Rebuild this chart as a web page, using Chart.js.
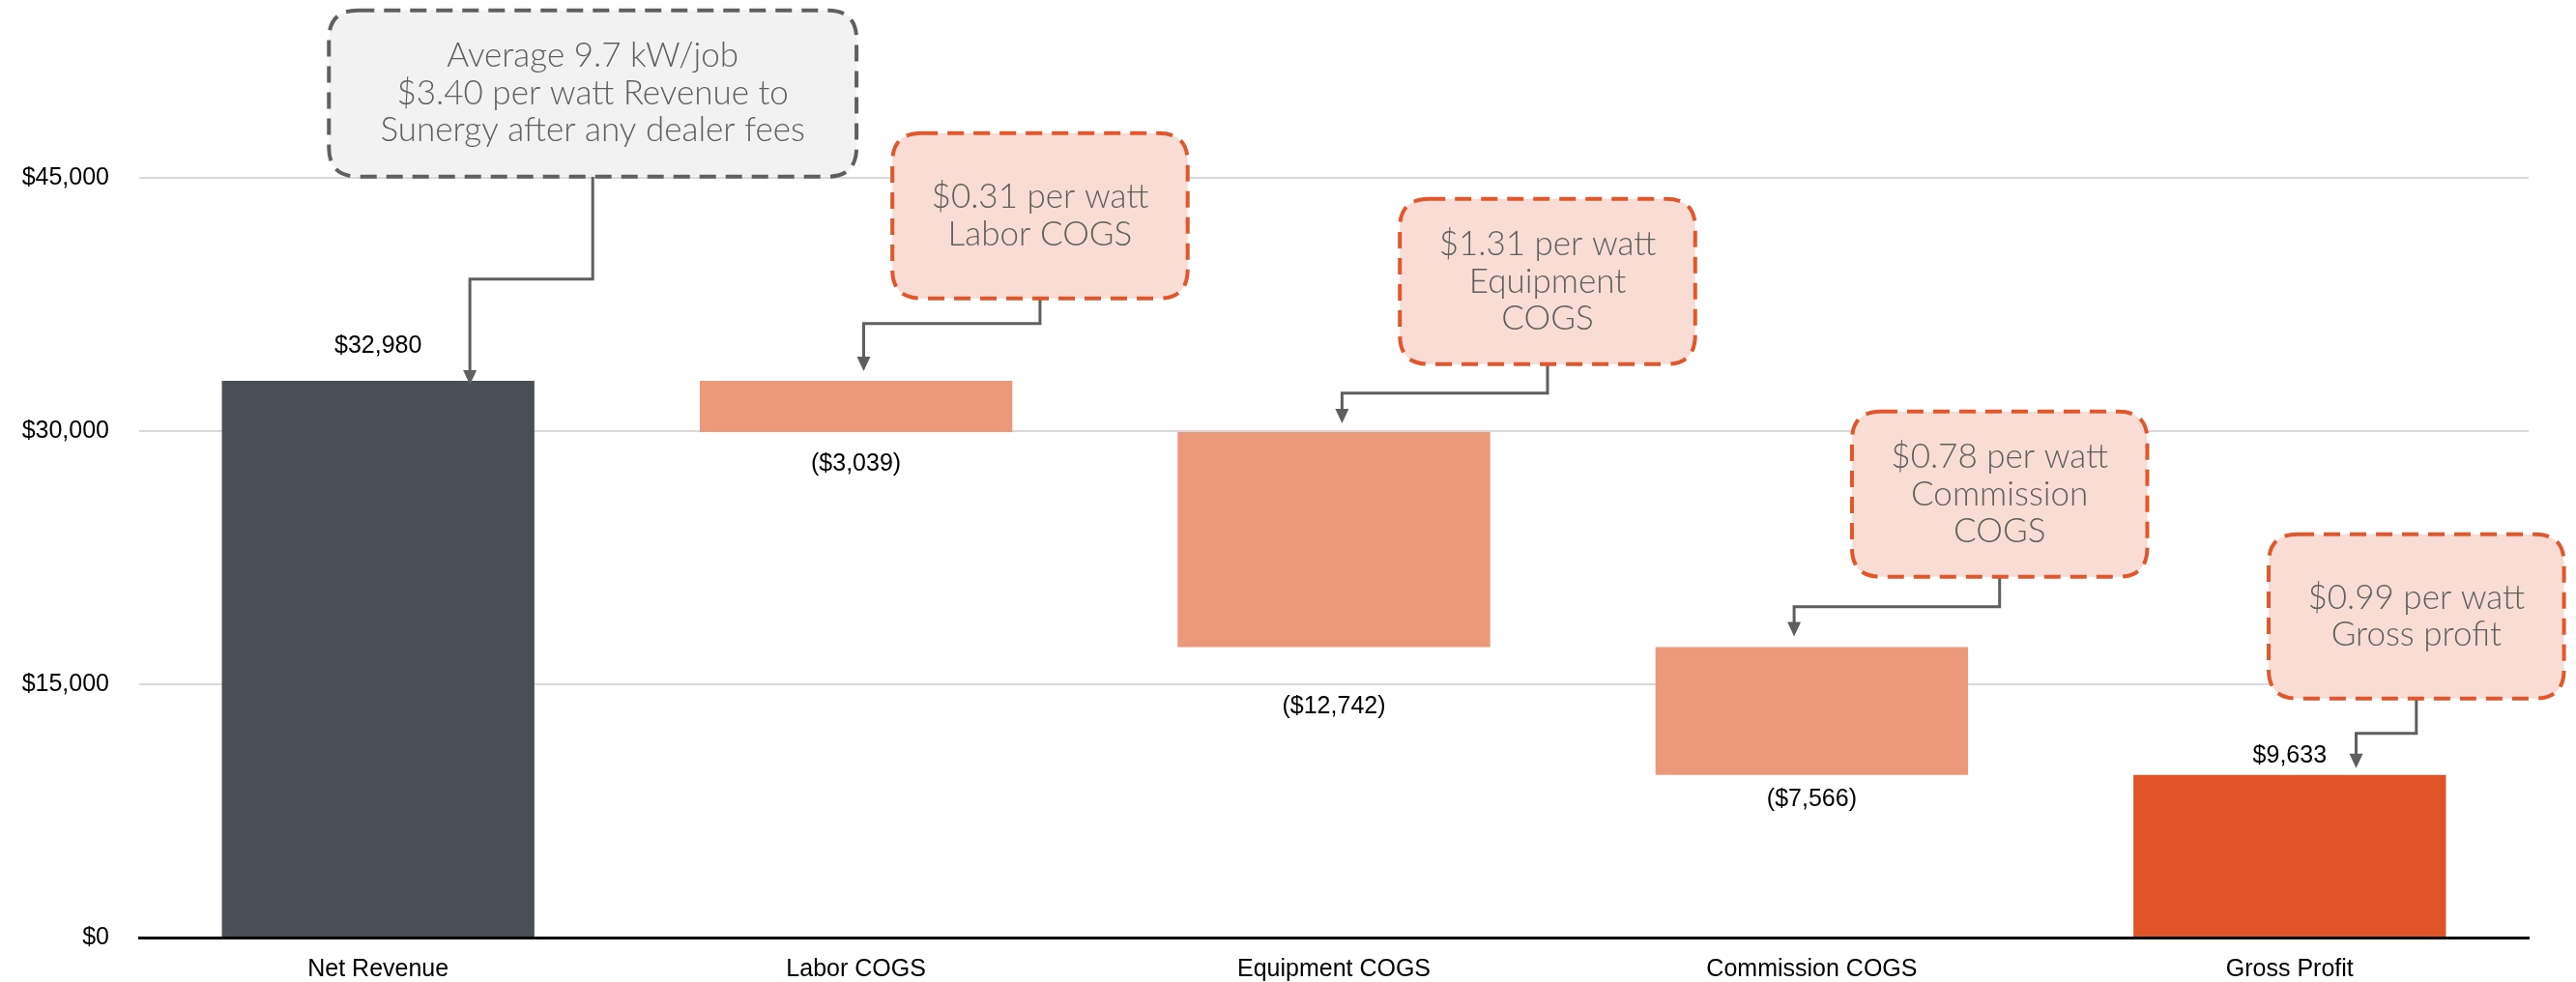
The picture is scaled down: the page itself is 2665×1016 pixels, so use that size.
<!DOCTYPE html>
<html>
<head>
<meta charset="utf-8">
<script src="https://cdn.jsdelivr.net/npm/chart.js@4.4.1/dist/chart.umd.min.js"></script>
<style>
  html, body { margin: 0; padding: 0; background: #ffffff; }
  #wrap { width: 2665px; height: 1016px; }
</style>
</head>
<body>
<div id="wrap"><canvas id="myChart" width="2665" height="1016"></canvas></div>
<script>
// Data
const categories = ['Net Revenue', 'Labor COGS', 'Equipment COGS', 'Commission COGS', 'Gross Profit'];
const changes = [32980, -3039, -12742, -7566, 9633];
const isTotal = [true, false, false, false, true];
const yTicks = [0, 15000, 30000, 45000];
const calloutTexts = [
    ['Average 9.7 kW/job', '$3.40 per watt Revenue to', 'Sunergy after any dealer fees'],
    ['$0.31 per watt', 'Labor COGS'],
    ['$1.31 per watt', 'Equipment', 'COGS'],
    ['$0.78 per watt', 'Commission', 'COGS'],
    ['$0.99 per watt', 'Gross profit']
];

// Floating bars for the waterfall
let running = 0;
const ranges = changes.map(function (v, i) {
    if (isTotal[i]) {
        running = v;
        return [0, v];
    }
    const start = running;
    running = running + v;
    return [running, start];
});

const barColors = ['#4a4e56', '#eb987b', '#eb987b', '#eb987b', '#e05427'];

function money(v) {
    const s = '$' + Math.abs(v).toLocaleString('en-US');
    return v < 0 ? '(' + s + ')' : s;
}

// Value labels next to each bar
const valueLabels = {
    id: 'valueLabels',
    afterDatasetsDraw(chart, args, opts) {
        const c = chart.ctx;
        const meta = chart.getDatasetMeta(0);
        c.save();
        c.font = '25px "Liberation Sans", Arial, sans-serif';
        c.fillStyle = '#000000';
        c.textAlign = 'center';
        c.textBaseline = 'middle';
        meta.data.forEach(function (bar, i) {
            const v = changes[i];
            const top = Math.min(bar.y, bar.base);
            const bottom = Math.max(bar.y, bar.base);
            const off = opts.offsets[i];
            const y = v >= 0 ? top - off : bottom + off;
            c.fillText(money(v), bar.x, y);
        });
        c.restore();
    }
};

function roundRect(c, x, y, w, h, r) {
    c.beginPath();
    c.moveTo(x + r, y);
    c.lineTo(x + w - r, y);
    c.quadraticCurveTo(x + w, y, x + w, y + r);
    c.lineTo(x + w, y + h - r);
    c.quadraticCurveTo(x + w, y + h, x + w - r, y + h);
    c.lineTo(x + r, y + h);
    c.quadraticCurveTo(x, y + h, x, y + h - r);
    c.lineTo(x, y + r);
    c.quadraticCurveTo(x, y, x + r, y);
    c.closePath();
}

// Callout boxes with elbow connectors
const callouts = {
    id: 'callouts',
    afterDatasetsDraw(chart, args, opts) {
        const c = chart.ctx;
        const xs = chart.scales.x;
        const ys = chart.scales.y;
        const meta = chart.getDatasetMeta(0);
        const step = xs.getPixelForValue(1) - xs.getPixelForValue(0);
        c.save();
        opts.boxes.forEach(function (b, i) {
            const cx = xs.getPixelForValue(b.cat) + b.dx * step;
            const w = b.w * step;
            const top = ys.getPixelForValue(b.top);
            const bottom = ys.getPixelForValue(b.bottom);
            const elbow = ys.getPixelForValue(b.elbow);
            const ax = xs.getPixelForValue(b.cat) + b.arrowDx * step;
            const bar = meta.data[b.cat];
            const tip = Math.min(bar.y, bar.base) - b.gap;

            // connector
            c.setLineDash([]);
            c.strokeStyle = '#5f5f5f';
            c.lineWidth = 3;
            c.beginPath();
            c.moveTo(cx, bottom);
            c.lineTo(cx, elbow);
            c.lineTo(ax, elbow);
            c.lineTo(ax, tip - 14);
            c.stroke();
            c.fillStyle = '#5f5f5f';
            c.beginPath();
            c.moveTo(ax - 7, tip - 15);
            c.lineTo(ax + 7, tip - 15);
            c.lineTo(ax, tip);
            c.closePath();
            c.fill();

            // box
            const gray = b.style === 'gray';
            roundRect(c, cx - w / 2, top, w, bottom - top, 30);
            c.fillStyle = gray ? '#f2f2f2' : '#f9dcd4';
            c.fill();
            c.setLineDash([17, 10]);
            c.lineWidth = 4;
            c.strokeStyle = gray ? '#5f5f5f' : '#e2562b';
            c.stroke();

            // text
            const lines = calloutTexts[i];
            const lh = 38.5;
            const mid = (top + bottom) / 2;
            c.font = '300 35px Lato, "Open Sans", sans-serif';
            c.fillStyle = '#5f5f5f';
            c.textAlign = 'center';
            c.textBaseline = 'middle';
            lines.forEach(function (t, k) {
                c.fillText(t, cx, mid + (k - (lines.length - 1) / 2) * lh);
            });
        });
        c.restore();
    }
};

const ctx = document.getElementById('myChart').getContext('2d');
const chart = new Chart(ctx, {
    type: 'bar',
    data: {
        labels: categories,
        datasets: [{
            data: ranges,
            backgroundColor: barColors,
            borderWidth: 0,
            categoryPercentage: 1,
            barPercentage: 0.654
        }]
    },
    options: {
        responsive: false,
        animation: false,
        devicePixelRatio: 1,
        layout: { padding: { top: 184, left: 0, right: 49, bottom: 0 } },
        plugins: {
            legend: { display: false },
            tooltip: { enabled: false },
            valueLabels: { offsets: [36, 33, 62, 25, 20] },
            callouts: {
                boxes: [
                    { cat: 0, dx: 0.449, w: 1.104, top: 54922, bottom: 45073, elbow: 39004, arrowDx: 0.192, gap: -4, style: 'gray' },
                    { cat: 1, dx: 0.385, w: 0.618, top: 47649, bottom: 37860, elbow: 36371, arrowDx: 0.016, gap: 10, style: 'orange' },
                    { cat: 2, dx: 0.447, w: 0.618, top: 43756, bottom: 33966, elbow: 32249, arrowDx: 0.017, gap: 9, style: 'orange' },
                    { cat: 3, dx: 0.393, w: 0.618, top: 31161, bottom: 21371, elbow: 19597, arrowDx: -0.037, gap: 11, style: 'orange' },
                    { cat: 4, dx: 0.265, w: 0.618, top: 23890, bottom: 14158, elbow: 12097, arrowDx: 0.139, gap: 7, style: 'orange' }
                ]
            }
        },
        scales: {
            x: {
                afterFit: function (scale) { scale.height = 46; },
                grid: { display: false, drawTicks: false },
                border: { display: true, color: '#000000', width: 3 },
                ticks: {
                    color: '#000000',
                    padding: 18,
                    font: { family: '"Liberation Sans", Arial, sans-serif', size: 25 }
                }
            },
            y: {
                min: 0,
                max: 45000,
                afterFit: function (scale) { scale.width = 144; },
                afterBuildTicks: function (scale) {
                    scale.ticks = yTicks.map(function (v) { return { value: v }; });
                },
                grid: {
                    color: function (c) { return c.tick && c.tick.value === 0 ? 'rgba(0,0,0,0)' : '#d9d9d9'; },
                    lineWidth: 2,
                    drawTicks: false
                },
                border: { display: false },
                ticks: {
                    color: '#000000',
                    padding: 31,
                    font: { family: '"Liberation Sans", Arial, sans-serif', size: 25 },
                    callback: function (v) { return money(v); }
                }
            }
        }
    },
    plugins: [valueLabels, callouts]
});
</script>
</body>
</html>
